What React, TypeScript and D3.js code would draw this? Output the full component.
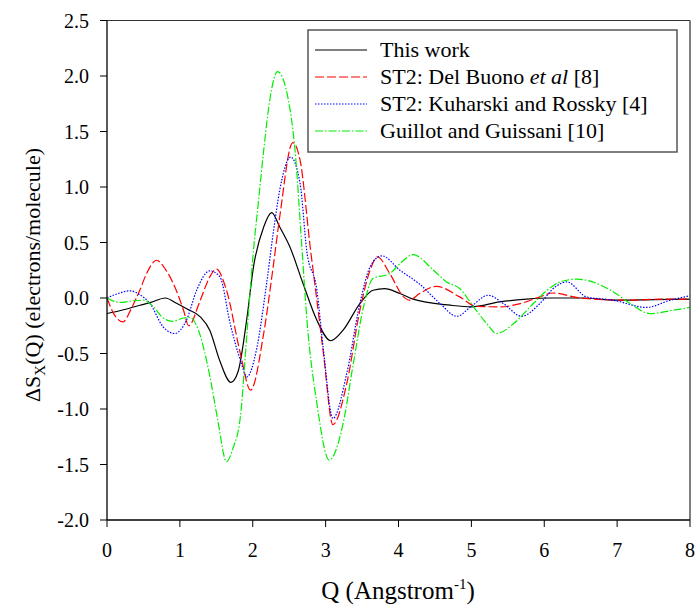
import React from "react";
import * as d3 from "d3";

const thisWorkQ = [0, 0.2, 0.45, 0.6, 0.8, 0.96, 1.1, 1.28, 1.41, 1.55, 1.7, 1.8, 1.92, 2.01, 2.15, 2.26, 2.37, 2.51, 2.69, 2.88, 3.07, 3.24, 3.47, 3.65, 3.81, 4.02, 4.2, 4.71, 5.0, 5.39, 5.76, 6.08, 6.5, 7.0, 7.5, 8.0];
const thisWorkV = [-0.14, -0.11, -0.065, -0.04, 0.0, -0.05, -0.1, -0.17, -0.29, -0.57, -0.76, -0.66, -0.18, 0.28, 0.64, 0.77, 0.64, 0.46, 0.13, -0.2, -0.385, -0.29, -0.05, 0.07, 0.085, 0.04, -0.01, -0.065, -0.08, -0.035, -0.01, 0.0, 0.0, -0.02, -0.015, -0.01];

const delBuonoQ = [0, 0.1, 0.22, 0.33, 0.45, 0.55, 0.68, 0.8, 0.91, 1.05, 1.12, 1.28, 1.41, 1.5, 1.64, 1.83, 1.97, 2.15, 2.28, 2.37, 2.55, 2.65, 2.79, 2.88, 2.97, 3.1, 3.29, 3.47, 3.61, 3.71, 3.88, 4.07, 4.15, 4.29, 4.52, 4.84, 5.07, 5.39, 5.67, 5.94, 6.12, 6.49, 7.18, 7.6, 8.0];
const delBuonoV = [0.0, -0.15, -0.215, -0.1, 0.07, 0.23, 0.34, 0.26, 0.13, -0.11, -0.25, -0.02, 0.19, 0.26, 0.07, -0.5, -0.83, -0.32, 0.28, 0.73, 1.4, 1.24, 0.45, -0.02, -0.5, -1.14, -0.77, -0.11, 0.25, 0.37, 0.22, 0.01, -0.02, 0.04, 0.105, 0.01, -0.075, -0.08, -0.05, 0.01, 0.045, 0.0, -0.02, -0.01, -0.01];

const kuharskiQ = [0, 0.15, 0.32, 0.45, 0.59, 0.77, 0.93, 1.09, 1.23, 1.41, 1.55, 1.69, 1.83, 1.92, 2.05, 2.19, 2.28, 2.37, 2.52, 2.65, 2.74, 2.88, 2.97, 3.1, 3.29, 3.47, 3.61, 3.77, 4.02, 4.29, 4.57, 4.8, 5.0, 5.23, 5.44, 5.69, 5.94, 6.15, 6.31, 6.58, 6.95, 7.4, 7.73, 8.0];
const kuharskiV = [0.0, 0.04, 0.065, 0.03, -0.05, -0.26, -0.32, -0.2, 0.07, 0.245, 0.19, -0.23, -0.56, -0.71, -0.47, 0.13, 0.58, 0.97, 1.27, 1.03, 0.43, 0.07, -0.47, -1.085, -0.68, -0.05, 0.28, 0.38, 0.25, 0.125, -0.05, -0.165, -0.075, 0.025, -0.05, -0.165, -0.05, 0.1, 0.145, 0.01, -0.02, -0.085, -0.02, 0.02];

const guillotQ = [0, 0.18, 0.36, 0.5, 0.64, 0.77, 0.9, 1.05, 1.14, 1.23, 1.41, 1.52, 1.64, 1.73, 1.83, 1.92, 2.01, 2.08, 2.15, 2.24, 2.34, 2.49, 2.58, 2.67, 2.74, 2.88, 3.05, 3.24, 3.38, 3.52, 3.65, 3.88, 4.02, 4.2, 4.48, 4.66, 4.84, 5.03, 5.21, 5.35, 5.58, 5.85, 6.03, 6.22, 6.45, 6.95, 7.18, 7.45, 7.77, 8.0];
const guillotV = [0.0, -0.04, -0.025, -0.02, -0.08, -0.18, -0.21, -0.18, -0.175, -0.25, -0.7, -1.1, -1.475, -1.35, -1.07, -0.32, 0.43, 0.88, 1.33, 1.81, 2.04, 1.78, 1.33, 0.5, -0.17, -0.95, -1.46, -1.13, -0.59, -0.08, 0.175, 0.22, 0.31, 0.39, 0.25, 0.145, 0.085, -0.08, -0.23, -0.32, -0.23, -0.05, 0.065, 0.145, 0.17, 0.055, -0.05, -0.14, -0.11, -0.085];

const xTicks = [0, 1, 2, 3, 4, 5, 6, 7, 8];
const yTicks = [-2.0, -1.5, -1.0, -0.5, 0.0, 0.5, 1.0, 1.5, 2.0, 2.5];

const seriesNames = ["This work", "ST2: Del Buono", "ST2: Kuharski and Rossky [4]", "Guillot and Guissani [10]"];

const W = 695;
const H = 609;
const left = 107;
const right = 690;
const top = 20.5;
const bottom = 520;
const font = "Liberation Serif, Times New Roman, DejaVu Serif, serif";

export default function App() {
  const x = d3.scaleLinear().domain([0, 8]).range([left, right]);
  const y = d3.scaleLinear().domain([-2, 2.5]).range([bottom, top]);
  const mk = (qs: number[], vs: number[]) =>
    d3
      .line<number>()
      .x((_, i) => x(qs[i]))
      .y((v) => y(v))
      .curve(d3.curveMonotoneX)(vs) || "";

  const series = [
    { name: seriesNames[0], d: mk(thisWorkQ, thisWorkV), color: "#000000", dash: "none" },
    { name: seriesNames[1], d: mk(delBuonoQ, delBuonoV), color: "#ff0000", dash: "9,3" },
    { name: seriesNames[2], d: mk(kuharskiQ, kuharskiV), color: "#0000ff", dash: "1.5,1.5" },
    { name: seriesNames[3], d: mk(guillotQ, guillotV), color: "#00ee00", dash: "8,2,1.5,2" },
  ];

  const legX = 308;
  const legY = 30;
  const rowY = [50, 77, 104, 131];
  const ts = { fontFamily: font };

  return (
    <svg width={W} height={H} style={{ position: "absolute", left: 0, top: 0, background: "#fff" }}>
      <rect x={0} y={0} width={W} height={H} fill="#fff" />
      <defs>
        <clipPath id="plot">
          <rect x={left} y={top} width={right - left} height={bottom - top} />
        </clipPath>
      </defs>
      <g clipPath="url(#plot)">
        {series.map((s, i) => (
          <path key={i} d={s.d} fill="none" stroke={s.color} strokeWidth={1.2} strokeDasharray={s.dash} />
        ))}
      </g>
      <line x1={left} x2={right} y1={top} y2={top} stroke="#333" strokeWidth={1} />
      <line x1={right} x2={right} y1={top} y2={bottom} stroke="#555" strokeWidth={1.5} />
      <line x1={left} x2={left} y1={top} y2={bottom} stroke="#000" strokeWidth={1.3} />
      <line x1={left} x2={right} y1={bottom} y2={bottom} stroke="#000" strokeWidth={1.3} />
      {xTicks.map((t) => (
        <g key={"x" + t}>
          <line x1={x(t)} x2={x(t)} y1={bottom} y2={bottom + 7} stroke="#000" strokeWidth={1} />
          <text x={x(t)} y={557} textAnchor="middle" style={ts} fontSize={20} fill="#000">
            {String(t)}
          </text>
        </g>
      ))}
      {yTicks.map((t) => (
        <g key={"y" + t}>
          <line x1={left - 7} x2={left} y1={y(t)} y2={y(t)} stroke="#000" strokeWidth={1} />
          <text x={89} y={y(t) + 7} textAnchor="end" style={ts} fontSize={20} fill="#000">
            {t.toFixed(1)}
          </text>
        </g>
      ))}
      <text x={398} y={599} textAnchor="middle" style={ts} fontSize={25} fill="#000">
        Q (Angstrom<tspan dy={-10} fontSize={15}>-1</tspan><tspan dy={10}>)</tspan>
      </text>
      <text transform="translate(40,275) rotate(-90)" textAnchor="middle" style={ts} fontSize={22} fill="#000">
        ΔS<tspan dy={5} fontSize={15}>X</tspan><tspan dy={-5}>(Q) (electrons/molecule)</tspan>
      </text>
      <rect x={legX} y={legY} width={369} height={122} fill="#fff" stroke="#555" strokeWidth={1.5} />
      {series.map((s, i) => (
        <g key={"l" + i}>
          <line x1={315} x2={367} y1={rowY[i]} y2={rowY[i]} stroke={s.color} strokeWidth={1.2} strokeDasharray={s.dash} />
          <text x={380} y={rowY[i] + 7} style={ts} fontSize={22} fill="#000">
            {i === 1 ? (
              <>
                {s.name} <tspan fontStyle="italic">et al</tspan> [8]
              </>
            ) : (
              s.name
            )}
          </text>
        </g>
      ))}
    </svg>
  );
}
